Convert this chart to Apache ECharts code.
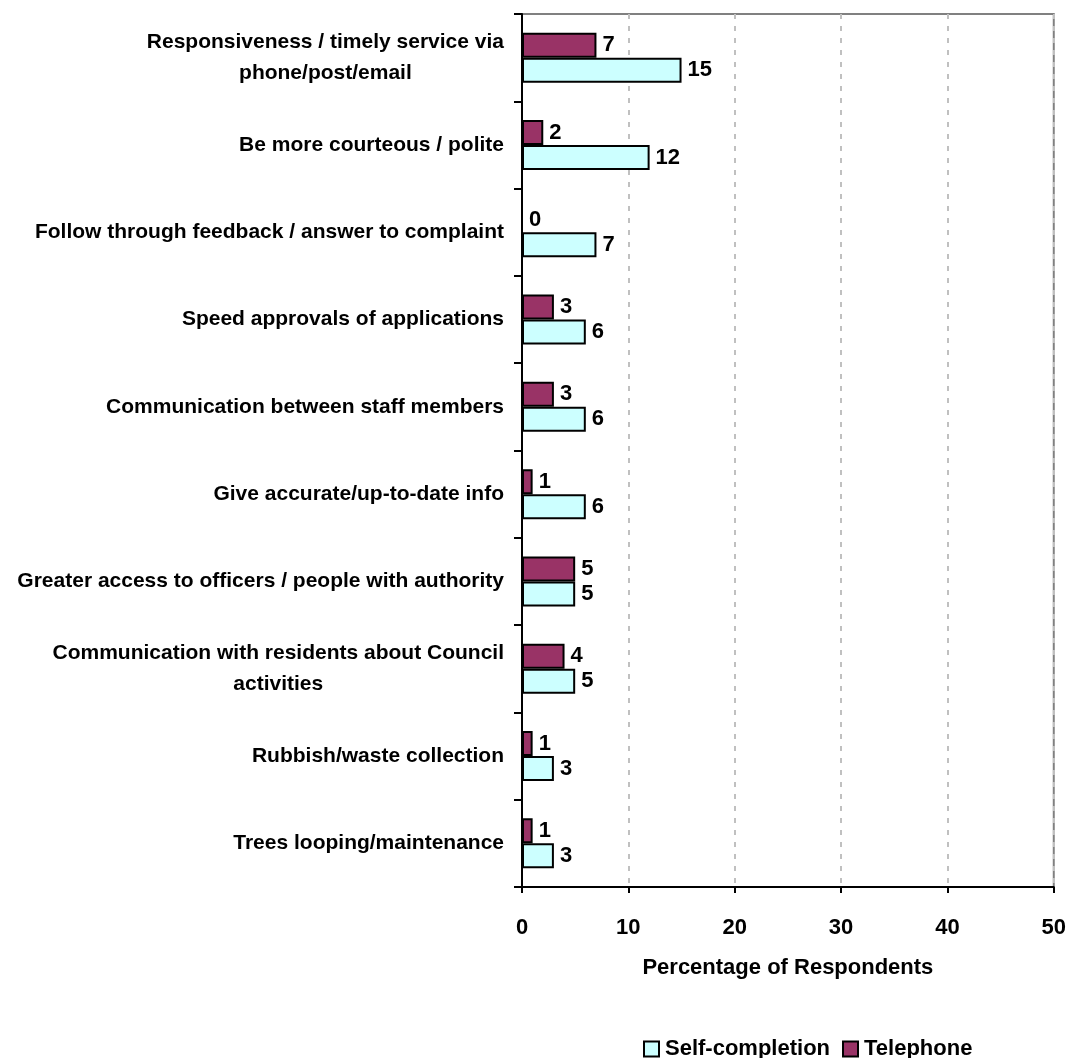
<!DOCTYPE html>
<html>
<head>
<meta charset="utf-8">
<script src="https://cdn.jsdelivr.net/npm/echarts@6/dist/echarts.min.js"></script>
<style>
  html, body { margin: 0; padding: 0; background: #ffffff; }
  #chart { width: 1069px; height: 1058px; }
</style>
</head>
<body>
<div id="chart"></div>
<script>
// Suggested improvements, listed top to bottom
const categories = [
  'Responsiveness / timely service via\nphone/post/email',
  'Be more courteous / polite',
  'Follow through feedback / answer to complaint',
  'Speed approvals of applications',
  'Communication between staff members',
  'Give accurate/up-to-date info',
  'Greater access to officers / people with authority',
  'Communication with residents about Council\nactivities',
  'Rubbish/waste collection',
  'Trees looping/maintenance'
];
const telephone = [7, 2, 0, 3, 3, 1, 5, 4, 1, 1];
const selfCompletion = [15, 12, 7, 6, 6, 6, 5, 5, 3, 3];
const xTicks = [0, 10, 20, 30, 40, 50];

const FONT = '"Liberation Sans Narrow", "Arial Narrow", "Liberation Sans", Arial, sans-serif';
const textBase = { fontFamily: FONT, fontSize: 21, fontWeight: 'bold', color: '#000' };

const chart = echarts.init(document.getElementById('chart'), null, { renderer: 'canvas' });

const barLabel = {
  show: true,
  position: 'right',
  distance: 6,
  fontFamily: FONT,
  fontSize: 22,
  fontWeight: 'bold',
  color: '#000'
};

chart.setOption({
  backgroundColor: '#ffffff',
  animation: false,
  grid: {
    left: 522, right: 14, top: 14, bottom: 171,
    show: true, borderColor: '#808080', borderWidth: 2, backgroundColor: 'transparent'
  },
  legend: {
    data: ['Self-completion', 'Telephone'],
    left: 638, top: 1033,
    itemWidth: 15, itemHeight: 15, itemGap: 12,
    icon: 'rect',
    itemStyle: { borderColor: '#000', borderWidth: 2 },
    textStyle: Object.assign({}, textBase, { fontSize: 22, padding: [0, 0, 0, 1] })
  },
  xAxis: {
    type: 'value',
    min: xTicks[0], max: xTicks[xTicks.length - 1], interval: 10,
    name: 'Percentage of Respondents',
    nameLocation: 'middle', nameGap: 70,
    nameTextStyle: Object.assign({}, textBase, { fontSize: 22 }),
    axisLine: { show: true, lineStyle: { color: '#000', width: 2 } },
    axisTick: { show: true, length: 6, lineStyle: { color: '#000', width: 2 } },
    axisLabel: Object.assign({}, textBase, { fontSize: 22, margin: 30 }),
    splitLine: { show: true, lineStyle: { color: '#c0c0c0', width: 2, type: [5, 7] } }
  },
  yAxis: {
    type: 'category',
    data: categories,
    inverse: true,
    axisLine: { show: true, lineStyle: { color: '#000', width: 2 } },
    axisTick: { show: true, length: 8, lineStyle: { color: '#000', width: 2 } },
    axisLabel: {
      margin: 18,
      formatter: v => v.split('\n').map(s => '{c|' + s + '}').join('\n'),
      rich: { c: Object.assign({}, textBase, { align: 'center', lineHeight: 31 }) }
    },
    splitLine: { show: false }
  },
  series: [
    {
      name: 'Telephone', type: 'bar', data: telephone,
      barWidth: 25, barGap: '0%',
      itemStyle: { color: '#993366', borderColor: '#000', borderWidth: 2 },
      label: barLabel
    },
    {
      name: 'Self-completion', type: 'bar', data: selfCompletion,
      barWidth: 25, barGap: '0%',
      itemStyle: { color: '#ccffff', borderColor: '#000', borderWidth: 2 },
      label: barLabel
    }
  ]
});
</script>
</body>
</html>
